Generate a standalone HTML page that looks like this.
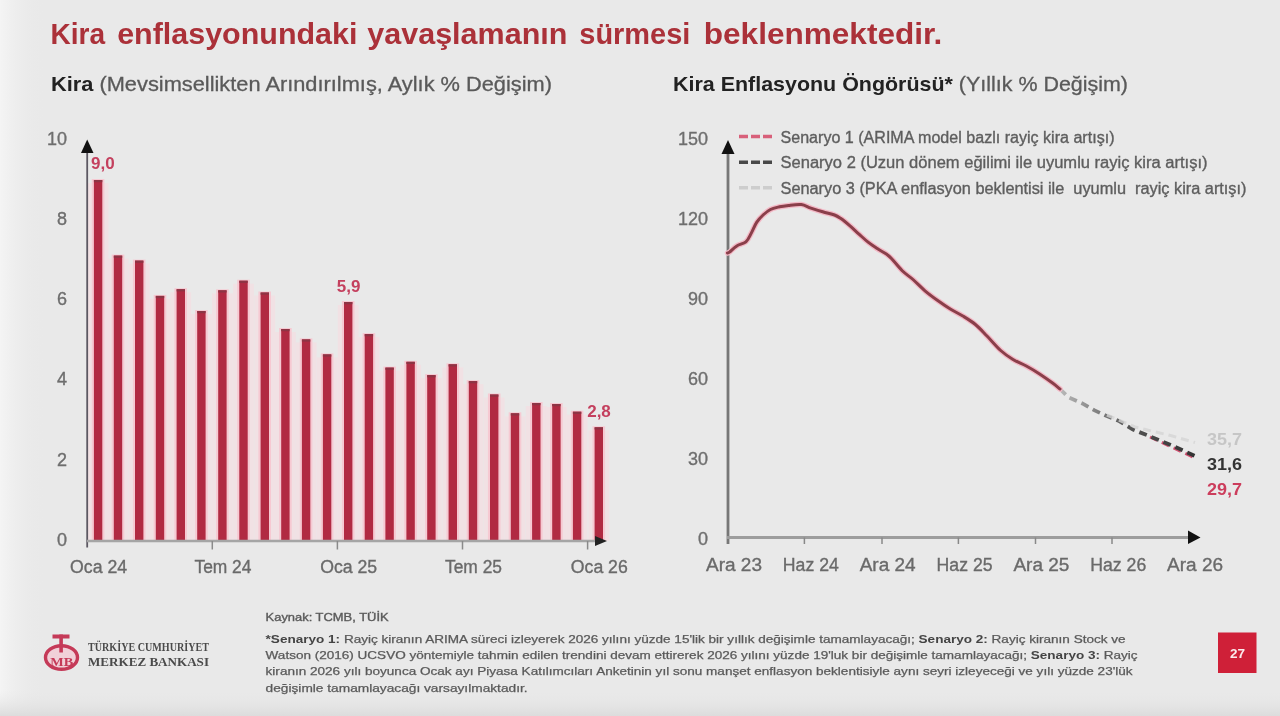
<!DOCTYPE html>
<html><head><meta charset="utf-8"><style>
html,body{margin:0;padding:0;width:1280px;height:716px;overflow:hidden;background:#e9e9e9;}
svg{display:block;filter:blur(0.45px);}
</style></head><body>
<svg width="1280" height="716" viewBox="0 0 1280 716">
<defs>
<linearGradient id="dk" gradientUnits="userSpaceOnUse" x1="1060" y1="0" x2="1195" y2="0"><stop offset="0" stop-color="#b8b8b8"/><stop offset="0.5" stop-color="#555"/><stop offset="1" stop-color="#333"/></linearGradient>
<linearGradient id="bot" x1="0" y1="0" x2="0" y2="1"><stop offset="0" stop-color="#e9e9e9" stop-opacity="0"/><stop offset="1" stop-color="#dcdcdc"/></linearGradient>
<linearGradient id="lft" x1="0" y1="0" x2="1" y2="0"><stop offset="0" stop-color="#f4f4f4"/><stop offset="1" stop-color="#e9e9e9" stop-opacity="0"/></linearGradient>
</defs>
<rect width="1280" height="716" fill="#e9e9e9"/>
<rect x="0" y="0" width="45" height="716" fill="url(#lft)"/>
<rect x="0" y="690" width="1280" height="26" fill="url(#bot)"/>
<text x="50.4" y="43.8" font-size="30" fill="#ab3139" font-weight="bold" text-anchor="start" font-family="Liberation Sans" textLength="54.6" lengthAdjust="spacingAndGlyphs" >Kira</text>
<text x="117.19999999999999" y="43.8" font-size="30" fill="#ab3139" font-weight="bold" text-anchor="start" font-family="Liberation Sans" textLength="240.2" lengthAdjust="spacingAndGlyphs" >enflasyonundaki</text>
<text x="367.3" y="43.8" font-size="30" fill="#ab3139" font-weight="bold" text-anchor="start" font-family="Liberation Sans" textLength="200.1" lengthAdjust="spacingAndGlyphs" >yavaşlamanın</text>
<text x="579.35" y="43.8" font-size="30" fill="#ab3139" font-weight="bold" text-anchor="start" font-family="Liberation Sans" textLength="111.0" lengthAdjust="spacingAndGlyphs" >sürmesi</text>
<text x="703.8000000000001" y="43.8" font-size="30" fill="#ab3139" font-weight="bold" text-anchor="start" font-family="Liberation Sans" textLength="238.5" lengthAdjust="spacingAndGlyphs" >beklenmektedir.</text>
<text x="51" y="90.5" font-size="20.5" font-family="Liberation Sans" fill="#5a5a5a" stroke="#5a5a5a" stroke-width="0.3" textLength="501" lengthAdjust="spacingAndGlyphs"><tspan font-weight="bold" fill="#222" stroke="none">Kira</tspan> (Mevsimsellikten Arındırılmış, Aylık % Değişim)</text>
<text x="673" y="90.5" font-size="20.5" font-family="Liberation Sans" fill="#5a5a5a" stroke="#5a5a5a" stroke-width="0.3" textLength="455" lengthAdjust="spacingAndGlyphs"><tspan font-weight="bold" fill="#222" stroke="none">Kira Enflasyonu Öngörüsü*</tspan> (Yıllık % Değişim)</text>
<text x="67" y="545.8" font-size="18" fill="#6e6e6e" font-weight="normal" text-anchor="end" font-family="Liberation Sans" stroke="#6e6e6e" stroke-width="0.35" >0</text>
<text x="67" y="465.59999999999997" font-size="18" fill="#6e6e6e" font-weight="normal" text-anchor="end" font-family="Liberation Sans" stroke="#6e6e6e" stroke-width="0.35" >2</text>
<text x="67" y="385.4" font-size="18" fill="#6e6e6e" font-weight="normal" text-anchor="end" font-family="Liberation Sans" stroke="#6e6e6e" stroke-width="0.35" >4</text>
<text x="67" y="305.19999999999993" font-size="18" fill="#6e6e6e" font-weight="normal" text-anchor="end" font-family="Liberation Sans" stroke="#6e6e6e" stroke-width="0.35" >6</text>
<text x="67" y="224.99999999999994" font-size="18" fill="#6e6e6e" font-weight="normal" text-anchor="end" font-family="Liberation Sans" stroke="#6e6e6e" stroke-width="0.35" >8</text>
<text x="67" y="144.79999999999995" font-size="18" fill="#6e6e6e" font-weight="normal" text-anchor="end" font-family="Liberation Sans" stroke="#6e6e6e" stroke-width="0.35" >10</text>
<rect x="87.67" y="183.0" width="20.86" height="358.0" fill="#f1e1e4"/><rect x="107.57" y="258.6" width="20.86" height="282.4" fill="#f1e1e4"/><rect x="128.77" y="263.6" width="20.86" height="277.4" fill="#f1e1e4"/><rect x="149.57" y="298.9" width="20.86" height="242.1" fill="#f1e1e4"/><rect x="170.32" y="292.2" width="20.86" height="248.8" fill="#f1e1e4"/><rect x="191.02" y="314.0" width="20.86" height="227.0" fill="#f1e1e4"/><rect x="212.02" y="293.3" width="20.86" height="247.7" fill="#f1e1e4"/><rect x="233.07" y="283.7" width="20.86" height="257.3" fill="#f1e1e4"/><rect x="254.32" y="295.5" width="20.86" height="245.5" fill="#f1e1e4"/><rect x="274.92" y="332.0" width="20.86" height="209.0" fill="#f1e1e4"/><rect x="295.72" y="342.4" width="20.86" height="198.6" fill="#f1e1e4"/><rect x="316.72" y="357.4" width="20.86" height="183.6" fill="#f1e1e4"/><rect x="337.77" y="305.0" width="20.86" height="236.0" fill="#f1e1e4"/><rect x="358.47" y="337.1" width="20.86" height="203.9" fill="#f1e1e4"/><rect x="379.17" y="370.6" width="20.86" height="170.4" fill="#f1e1e4"/><rect x="400.17" y="364.8" width="20.86" height="176.2" fill="#f1e1e4"/><rect x="420.97" y="378.1" width="20.86" height="162.9" fill="#f1e1e4"/><rect x="442.37" y="367.3" width="20.86" height="173.7" fill="#f1e1e4"/><rect x="462.57" y="384.1" width="20.86" height="156.9" fill="#f1e1e4"/><rect x="483.77" y="397.5" width="20.86" height="143.5" fill="#f1e1e4"/><rect x="504.57" y="416.3" width="20.86" height="124.7" fill="#f1e1e4"/><rect x="525.87" y="406.0" width="20.86" height="135.0" fill="#f1e1e4"/><rect x="545.97" y="407.0" width="20.86" height="134.0" fill="#f1e1e4"/><rect x="566.67" y="414.7" width="20.86" height="126.3" fill="#f1e1e4"/><rect x="588.37" y="430.3" width="20.86" height="110.7" fill="#f1e1e4"/>
<rect x="91.8" y="179.0" width="12.6" height="362.0" fill="#f6c9d2"/><rect x="111.7" y="254.6" width="12.6" height="286.4" fill="#f6c9d2"/><rect x="132.9" y="259.6" width="12.6" height="281.4" fill="#f6c9d2"/><rect x="153.7" y="294.9" width="12.6" height="246.1" fill="#f6c9d2"/><rect x="174.4" y="288.2" width="12.6" height="252.8" fill="#f6c9d2"/><rect x="195.1" y="310.0" width="12.6" height="231.0" fill="#f6c9d2"/><rect x="216.1" y="289.3" width="12.6" height="251.7" fill="#f6c9d2"/><rect x="237.2" y="279.7" width="12.6" height="261.3" fill="#f6c9d2"/><rect x="258.4" y="291.5" width="12.6" height="249.5" fill="#f6c9d2"/><rect x="279.1" y="328.0" width="12.6" height="213.0" fill="#f6c9d2"/><rect x="299.8" y="338.4" width="12.6" height="202.6" fill="#f6c9d2"/><rect x="320.8" y="353.4" width="12.6" height="187.6" fill="#f6c9d2"/><rect x="341.9" y="301.0" width="12.6" height="240.0" fill="#f6c9d2"/><rect x="362.6" y="333.1" width="12.6" height="207.9" fill="#f6c9d2"/><rect x="383.3" y="366.6" width="12.6" height="174.4" fill="#f6c9d2"/><rect x="404.3" y="360.8" width="12.6" height="180.2" fill="#f6c9d2"/><rect x="425.1" y="374.1" width="12.6" height="166.9" fill="#f6c9d2"/><rect x="446.5" y="363.3" width="12.6" height="177.7" fill="#f6c9d2"/><rect x="466.7" y="380.1" width="12.6" height="160.9" fill="#f6c9d2"/><rect x="487.9" y="393.5" width="12.6" height="147.5" fill="#f6c9d2"/><rect x="508.7" y="412.3" width="12.6" height="128.7" fill="#f6c9d2"/><rect x="530.0" y="402.0" width="12.6" height="139.0" fill="#f6c9d2"/><rect x="550.1" y="403.0" width="12.6" height="138.0" fill="#f6c9d2"/><rect x="570.8" y="410.7" width="12.6" height="130.3" fill="#f6c9d2"/><rect x="592.5" y="426.3" width="12.6" height="114.7" fill="#f6c9d2"/>
<rect x="93.9" y="180.0" width="8.4" height="361.0" fill="#b12a42"/><rect x="93.9" y="180.0" width="8.4" height="2.2" fill="#8e3444"/><rect x="113.8" y="255.6" width="8.4" height="285.4" fill="#b12a42"/><rect x="113.8" y="255.6" width="8.4" height="2.2" fill="#8e3444"/><rect x="135.0" y="260.6" width="8.4" height="280.4" fill="#b12a42"/><rect x="135.0" y="260.6" width="8.4" height="2.2" fill="#8e3444"/><rect x="155.8" y="295.9" width="8.4" height="245.1" fill="#b12a42"/><rect x="155.8" y="295.9" width="8.4" height="2.2" fill="#8e3444"/><rect x="176.6" y="289.2" width="8.4" height="251.8" fill="#b12a42"/><rect x="176.6" y="289.2" width="8.4" height="2.2" fill="#8e3444"/><rect x="197.2" y="311.0" width="8.4" height="230.0" fill="#b12a42"/><rect x="197.2" y="311.0" width="8.4" height="2.2" fill="#8e3444"/><rect x="218.2" y="290.3" width="8.4" height="250.7" fill="#b12a42"/><rect x="218.2" y="290.3" width="8.4" height="2.2" fill="#8e3444"/><rect x="239.3" y="280.7" width="8.4" height="260.3" fill="#b12a42"/><rect x="239.3" y="280.7" width="8.4" height="2.2" fill="#8e3444"/><rect x="260.6" y="292.5" width="8.4" height="248.5" fill="#b12a42"/><rect x="260.6" y="292.5" width="8.4" height="2.2" fill="#8e3444"/><rect x="281.2" y="329.0" width="8.4" height="212.0" fill="#b12a42"/><rect x="281.2" y="329.0" width="8.4" height="2.2" fill="#8e3444"/><rect x="301.9" y="339.4" width="8.4" height="201.6" fill="#b12a42"/><rect x="301.9" y="339.4" width="8.4" height="2.2" fill="#8e3444"/><rect x="322.9" y="354.4" width="8.4" height="186.6" fill="#b12a42"/><rect x="322.9" y="354.4" width="8.4" height="2.2" fill="#8e3444"/><rect x="344.0" y="302.0" width="8.4" height="239.0" fill="#b12a42"/><rect x="344.0" y="302.0" width="8.4" height="2.2" fill="#8e3444"/><rect x="364.7" y="334.1" width="8.4" height="206.9" fill="#b12a42"/><rect x="364.7" y="334.1" width="8.4" height="2.2" fill="#8e3444"/><rect x="385.4" y="367.6" width="8.4" height="173.4" fill="#b12a42"/><rect x="385.4" y="367.6" width="8.4" height="2.2" fill="#8e3444"/><rect x="406.4" y="361.8" width="8.4" height="179.2" fill="#b12a42"/><rect x="406.4" y="361.8" width="8.4" height="2.2" fill="#8e3444"/><rect x="427.2" y="375.1" width="8.4" height="165.9" fill="#b12a42"/><rect x="427.2" y="375.1" width="8.4" height="2.2" fill="#8e3444"/><rect x="448.6" y="364.3" width="8.4" height="176.7" fill="#b12a42"/><rect x="448.6" y="364.3" width="8.4" height="2.2" fill="#8e3444"/><rect x="468.8" y="381.1" width="8.4" height="159.9" fill="#b12a42"/><rect x="468.8" y="381.1" width="8.4" height="2.2" fill="#8e3444"/><rect x="490.0" y="394.5" width="8.4" height="146.5" fill="#b12a42"/><rect x="490.0" y="394.5" width="8.4" height="2.2" fill="#8e3444"/><rect x="510.8" y="413.3" width="8.4" height="127.7" fill="#b12a42"/><rect x="510.8" y="413.3" width="8.4" height="2.2" fill="#8e3444"/><rect x="532.1" y="403.0" width="8.4" height="138.0" fill="#b12a42"/><rect x="532.1" y="403.0" width="8.4" height="2.2" fill="#8e3444"/><rect x="552.2" y="404.0" width="8.4" height="137.0" fill="#b12a42"/><rect x="552.2" y="404.0" width="8.4" height="2.2" fill="#8e3444"/><rect x="572.9" y="411.7" width="8.4" height="129.3" fill="#b12a42"/><rect x="572.9" y="411.7" width="8.4" height="2.2" fill="#8e3444"/><rect x="594.6" y="427.3" width="8.4" height="113.7" fill="#b12a42"/><rect x="594.6" y="427.3" width="8.4" height="2.2" fill="#8e3444"/>
<line x1="87.2" y1="150" x2="87.2" y2="547.5" stroke="#5c5862" stroke-width="1.8"/>
<path d="M81,153 L87.2,139.5 L93.5,153 Z" fill="#111"/>
<line x1="87" y1="541" x2="598" y2="541" stroke="#a5a5a5" stroke-width="2.5"/>
<line x1="212.3" y1="541" x2="212.3" y2="549.5" stroke="#8a8a8a" stroke-width="1.5"/>
<line x1="337.4" y1="541" x2="337.4" y2="549.5" stroke="#8a8a8a" stroke-width="1.5"/>
<line x1="462.5" y1="541" x2="462.5" y2="549.5" stroke="#8a8a8a" stroke-width="1.5"/>
<line x1="587.6" y1="541" x2="587.6" y2="549.5" stroke="#8a8a8a" stroke-width="1.5"/>
<path d="M595,536 L607,541 L595,546 Z" fill="#222"/>
<text x="102.8" y="169" font-size="17" fill="#c4405e" font-weight="bold" text-anchor="middle" font-family="Liberation Sans" >9,0</text>
<text x="348.6" y="291.5" font-size="17" fill="#c4405e" font-weight="bold" text-anchor="middle" font-family="Liberation Sans" >5,9</text>
<text x="599" y="416.5" font-size="17" fill="#c4405e" font-weight="bold" text-anchor="middle" font-family="Liberation Sans" >2,8</text>
<text x="98.6" y="572.5" font-size="18" fill="#6a6a6a" font-weight="normal" text-anchor="middle" font-family="Liberation Sans" textLength="57" lengthAdjust="spacingAndGlyphs" stroke="#6a6a6a" stroke-width="0.35" >Oca 24</text>
<text x="222.95" y="572.5" font-size="18" fill="#6a6a6a" font-weight="normal" text-anchor="middle" font-family="Liberation Sans" textLength="57" lengthAdjust="spacingAndGlyphs" stroke="#6a6a6a" stroke-width="0.35" >Tem 24</text>
<text x="348.7" y="572.5" font-size="18" fill="#6a6a6a" font-weight="normal" text-anchor="middle" font-family="Liberation Sans" textLength="57" lengthAdjust="spacingAndGlyphs" stroke="#6a6a6a" stroke-width="0.35" >Oca 25</text>
<text x="473.5" y="572.5" font-size="18" fill="#6a6a6a" font-weight="normal" text-anchor="middle" font-family="Liberation Sans" textLength="57" lengthAdjust="spacingAndGlyphs" stroke="#6a6a6a" stroke-width="0.35" >Tem 25</text>
<text x="599.3" y="572.5" font-size="18" fill="#6a6a6a" font-weight="normal" text-anchor="middle" font-family="Liberation Sans" textLength="57" lengthAdjust="spacingAndGlyphs" stroke="#6a6a6a" stroke-width="0.35" >Oca 26</text>
<text x="708" y="545.0" font-size="18" fill="#6e6e6e" font-weight="normal" text-anchor="end" font-family="Liberation Sans" stroke="#6e6e6e" stroke-width="0.35" >0</text>
<text x="708" y="464.9" font-size="18" fill="#6e6e6e" font-weight="normal" text-anchor="end" font-family="Liberation Sans" stroke="#6e6e6e" stroke-width="0.35" >30</text>
<text x="708" y="384.8" font-size="18" fill="#6e6e6e" font-weight="normal" text-anchor="end" font-family="Liberation Sans" stroke="#6e6e6e" stroke-width="0.35" >60</text>
<text x="708" y="304.70000000000005" font-size="18" fill="#6e6e6e" font-weight="normal" text-anchor="end" font-family="Liberation Sans" stroke="#6e6e6e" stroke-width="0.35" >90</text>
<text x="708" y="224.60000000000002" font-size="18" fill="#6e6e6e" font-weight="normal" text-anchor="end" font-family="Liberation Sans" stroke="#6e6e6e" stroke-width="0.35" >120</text>
<text x="708" y="144.5" font-size="18" fill="#6e6e6e" font-weight="normal" text-anchor="end" font-family="Liberation Sans" stroke="#6e6e6e" stroke-width="0.35" >150</text>
<line x1="728" y1="150" x2="728" y2="544" stroke="#777" stroke-width="2.8"/>
<path d="M721.5,154 L728,140 L734.5,154 Z" fill="#111"/>
<line x1="727" y1="537.5" x2="1192" y2="537.5" stroke="#9d9d9d" stroke-width="3"/>
<line x1="804.4" y1="537.5" x2="804.4" y2="544" stroke="#888" stroke-width="1.5"/>
<line x1="882" y1="537.5" x2="882" y2="544" stroke="#888" stroke-width="1.5"/>
<line x1="958.4" y1="537.5" x2="958.4" y2="544" stroke="#888" stroke-width="1.5"/>
<line x1="1035.5" y1="537.5" x2="1035.5" y2="544" stroke="#888" stroke-width="1.5"/>
<line x1="1112" y1="537.5" x2="1112" y2="544" stroke="#888" stroke-width="1.5"/>
<path d="M1188,530.5 L1200.5,537.5 L1188,544 Z" fill="#111"/>
<text x="734.0" y="571" font-size="18" fill="#6a6a6a" font-weight="normal" text-anchor="middle" font-family="Liberation Sans" textLength="56" lengthAdjust="spacingAndGlyphs" stroke="#6a6a6a" stroke-width="0.35" >Ara 23</text>
<text x="810.85" y="571" font-size="18" fill="#6a6a6a" font-weight="normal" text-anchor="middle" font-family="Liberation Sans" textLength="56" lengthAdjust="spacingAndGlyphs" stroke="#6a6a6a" stroke-width="0.35" >Haz 24</text>
<text x="887.7" y="571" font-size="18" fill="#6a6a6a" font-weight="normal" text-anchor="middle" font-family="Liberation Sans" textLength="56" lengthAdjust="spacingAndGlyphs" stroke="#6a6a6a" stroke-width="0.35" >Ara 24</text>
<text x="964.55" y="571" font-size="18" fill="#6a6a6a" font-weight="normal" text-anchor="middle" font-family="Liberation Sans" textLength="56" lengthAdjust="spacingAndGlyphs" stroke="#6a6a6a" stroke-width="0.35" >Haz 25</text>
<text x="1041.4" y="571" font-size="18" fill="#6a6a6a" font-weight="normal" text-anchor="middle" font-family="Liberation Sans" textLength="56" lengthAdjust="spacingAndGlyphs" stroke="#6a6a6a" stroke-width="0.35" >Ara 25</text>
<text x="1118.25" y="571" font-size="18" fill="#6a6a6a" font-weight="normal" text-anchor="middle" font-family="Liberation Sans" textLength="56" lengthAdjust="spacingAndGlyphs" stroke="#6a6a6a" stroke-width="0.35" >Haz 26</text>
<text x="1195.1" y="571" font-size="18" fill="#6a6a6a" font-weight="normal" text-anchor="middle" font-family="Liberation Sans" textLength="56" lengthAdjust="spacingAndGlyphs" stroke="#6a6a6a" stroke-width="0.35" >Ara 26</text>
<line x1="739" y1="136.6" x2="774" y2="136.6" stroke="#d8607a" stroke-width="3.5" stroke-dasharray="9,3"/>
<text x="780.5" y="142.6" font-size="16" fill="#5e5e5e" font-weight="normal" text-anchor="start" font-family="Liberation Sans" textLength="334" lengthAdjust="spacingAndGlyphs" stroke="#5e5e5e" stroke-width="0.35" xml:space="preserve">Senaryo 1 (ARIMA model bazlı rayiç kira artışı)</text>
<line x1="739" y1="162.2" x2="774" y2="162.2" stroke="#484848" stroke-width="3.5" stroke-dasharray="9,3"/>
<text x="780.5" y="168.2" font-size="16" fill="#5e5e5e" font-weight="normal" text-anchor="start" font-family="Liberation Sans" textLength="427" lengthAdjust="spacingAndGlyphs" stroke="#5e5e5e" stroke-width="0.35" xml:space="preserve">Senaryo 2 (Uzun dönem eğilimi ile uyumlu rayiç kira artışı)</text>
<line x1="739" y1="187.8" x2="774" y2="187.8" stroke="#cdcdcd" stroke-width="3.5" stroke-dasharray="9,3"/>
<text x="780.5" y="193.8" font-size="16" fill="#5e5e5e" font-weight="normal" text-anchor="start" font-family="Liberation Sans" textLength="466" lengthAdjust="spacingAndGlyphs" stroke="#5e5e5e" stroke-width="0.35" xml:space="preserve">Senaryo 3 (PKA enflasyon beklentisi ile  uyumlu  rayiç kira artışı)</text>
<path d="M1150,437 L1171.5,447 L1195,458" stroke="#d05070" stroke-width="3" fill="none" stroke-dasharray="8,5"/>
<path d="M1060,389 L1068.4,397.3 L1082.3,403.4 L1094.6,410.4 L1106.9,416.1 L1119.2,421.1 L1133,429.6 L1147,435.2 L1159.3,440.2 L1171.5,445.3 L1185,451.4 L1195,456" stroke="url(#dk)" stroke-width="3.8" fill="none" stroke-dasharray="8,5"/>
<path d="M1106.9,415 L1135,427 L1171.5,435.8 L1195,442.5" stroke="#d4d4d4" stroke-width="3" fill="none" stroke-dasharray="8,5" opacity="0.8"/>
<path d="M727.5,253 C727.8,252.9 728.0,253.4 729.5,252.2 C731.0,251.0 734.1,247.6 736.8,245.9 C739.5,244.2 743.5,243.9 745.9,241.8 C748.3,239.7 749.5,236.4 751.3,233.1 C753.1,229.8 754.8,225.2 756.8,222.2 C758.8,219.2 760.8,217.1 763.1,215 C765.4,212.9 767.7,210.9 770.4,209.5 C773.1,208.1 776.5,207.5 779.5,206.8 C782.5,206.1 785.0,205.8 788.6,205.4 C792.2,205.0 797.6,204.2 801.3,204.6 C805.0,205.0 807.3,206.9 810.9,208.1 C814.5,209.3 818.8,210.7 822.7,211.8 C826.6,213.0 831.5,213.9 834.5,215 C837.5,216.1 838.3,216.8 840.9,218.6 C843.5,220.4 847.0,223.3 850,225.9 C853.0,228.5 856.0,231.4 859,234.1 C862.0,236.8 865.1,239.8 868.1,242.2 C871.1,244.6 874.2,246.6 877.2,248.6 C880.2,250.6 884.0,252.4 886.3,254 C888.6,255.6 888.6,255.4 891.2,258.2 C893.8,260.9 898.4,266.9 902,270.5 C905.6,274.1 909.2,276.1 913,279.5 C916.8,282.9 920.9,287.3 925,290.8 C929.1,294.3 933.5,297.5 937.7,300.5 C941.9,303.5 946.1,306.4 950.3,309 C954.5,311.6 958.6,313.4 962.8,316 C967.0,318.6 971.4,321.2 975.4,324.5 C979.4,327.8 982.8,331.7 987,336 C991.2,340.3 996.4,346.6 1000.7,350.5 C1005.0,354.4 1008.7,356.9 1013,359.5 C1017.3,362.1 1021.9,363.6 1026.3,366 C1030.7,368.4 1035.2,371.1 1039.6,374 C1044.0,376.9 1049.5,380.8 1052.9,383.3 C1056.3,385.8 1058.8,388.1 1060,389" stroke="#f3b9c6" stroke-width="5.5" fill="none" stroke-linejoin="round" stroke-linecap="round"/>
<path d="M727.5,253 C727.8,252.9 728.0,253.4 729.5,252.2 C731.0,251.0 734.1,247.6 736.8,245.9 C739.5,244.2 743.5,243.9 745.9,241.8 C748.3,239.7 749.5,236.4 751.3,233.1 C753.1,229.8 754.8,225.2 756.8,222.2 C758.8,219.2 760.8,217.1 763.1,215 C765.4,212.9 767.7,210.9 770.4,209.5 C773.1,208.1 776.5,207.5 779.5,206.8 C782.5,206.1 785.0,205.8 788.6,205.4 C792.2,205.0 797.6,204.2 801.3,204.6 C805.0,205.0 807.3,206.9 810.9,208.1 C814.5,209.3 818.8,210.7 822.7,211.8 C826.6,213.0 831.5,213.9 834.5,215 C837.5,216.1 838.3,216.8 840.9,218.6 C843.5,220.4 847.0,223.3 850,225.9 C853.0,228.5 856.0,231.4 859,234.1 C862.0,236.8 865.1,239.8 868.1,242.2 C871.1,244.6 874.2,246.6 877.2,248.6 C880.2,250.6 884.0,252.4 886.3,254 C888.6,255.6 888.6,255.4 891.2,258.2 C893.8,260.9 898.4,266.9 902,270.5 C905.6,274.1 909.2,276.1 913,279.5 C916.8,282.9 920.9,287.3 925,290.8 C929.1,294.3 933.5,297.5 937.7,300.5 C941.9,303.5 946.1,306.4 950.3,309 C954.5,311.6 958.6,313.4 962.8,316 C967.0,318.6 971.4,321.2 975.4,324.5 C979.4,327.8 982.8,331.7 987,336 C991.2,340.3 996.4,346.6 1000.7,350.5 C1005.0,354.4 1008.7,356.9 1013,359.5 C1017.3,362.1 1021.9,363.6 1026.3,366 C1030.7,368.4 1035.2,371.1 1039.6,374 C1044.0,376.9 1049.5,380.8 1052.9,383.3 C1056.3,385.8 1058.8,388.1 1060,389" stroke="#8a3f4a" stroke-width="3" fill="none" stroke-linejoin="round" stroke-linecap="round"/>
<text x="1207" y="445" font-size="17" fill="#c6c6c6" font-weight="bold" text-anchor="start" font-family="Liberation Sans" textLength="35" lengthAdjust="spacingAndGlyphs" >35,7</text>
<text x="1207" y="469.5" font-size="17" fill="#333" font-weight="bold" text-anchor="start" font-family="Liberation Sans" textLength="35" lengthAdjust="spacingAndGlyphs" >31,6</text>
<text x="1207" y="494.5" font-size="17" fill="#cc3d5c" font-weight="bold" text-anchor="start" font-family="Liberation Sans" textLength="35" lengthAdjust="spacingAndGlyphs" >29,7</text>
<text x="265.6" y="620.5" font-size="10.5" fill="#5a5a5a" font-weight="normal" text-anchor="start" font-family="Liberation Sans" textLength="123" lengthAdjust="spacingAndGlyphs" stroke="#5a5a5a" stroke-width="0.35" >Kaynak: TCMB, TÜİK</text>
<text x="265.6" y="643.0" font-size="10.5" font-family="Liberation Sans" fill="#5a5a5a" stroke="#5a5a5a" stroke-width="0.25" textLength="860" lengthAdjust="spacingAndGlyphs"><tspan font-weight="bold" fill="#444" stroke="none">*Senaryo 1:</tspan> Rayiç kiranın ARIMA süreci izleyerek 2026 yılını yüzde 15'lik bir yıllık değişimle tamamlayacağı; <tspan font-weight="bold" fill="#444" stroke="none">Senaryo 2:</tspan> Rayiç kiranın Stock ve</text>
<text x="265.6" y="659.2" font-size="10.5" font-family="Liberation Sans" fill="#5a5a5a" stroke="#5a5a5a" stroke-width="0.25" textLength="872" lengthAdjust="spacingAndGlyphs">Watson (2016) UCSVO yöntemiyle tahmin edilen trendini devam ettirerek 2026 yılını yüzde 19'luk bir değişimle tamamlayacağı; <tspan font-weight="bold" fill="#444" stroke="none">Senaryo 3:</tspan> Rayiç</text>
<text x="265.6" y="675.4" font-size="10.5" font-family="Liberation Sans" fill="#5a5a5a" stroke="#5a5a5a" stroke-width="0.25" textLength="867" lengthAdjust="spacingAndGlyphs">kiranın 2026 yılı boyunca Ocak ayı Piyasa Katılımcıları Anketinin yıl sonu manşet enflasyon beklentisiyle aynı seyri izleyeceği ve yılı yüzde 23'lük</text>
<text x="265.6" y="691.6" font-size="10.5" font-family="Liberation Sans" fill="#5a5a5a" stroke="#5a5a5a" stroke-width="0.25" textLength="262" lengthAdjust="spacingAndGlyphs">değişimle tamamlayacağı varsayılmaktadır.</text>
<ellipse cx="61.5" cy="657.5" rx="16" ry="11.8" fill="#f1d0d8" stroke="#c53a58" stroke-width="3.4"/>
<g fill="#c53a58"><rect x="52.5" y="634.5" width="17" height="4"/><rect x="59.3" y="634.5" width="3.6" height="18"/></g>
<text x="61.8" y="665.5" font-size="13" font-family="Liberation Serif" font-weight="bold" fill="#c53a58" text-anchor="middle" textLength="23" lengthAdjust="spacingAndGlyphs">MB</text>
<text x="88" y="650.5" font-size="12" fill="#4a4a4a" font-weight="bold" text-anchor="start" font-family="Liberation Serif" textLength="121" lengthAdjust="spacingAndGlyphs" >TÜRKİYE CUMHURİYET</text>
<text x="88" y="665.5" font-size="12" fill="#4a4a4a" font-weight="bold" text-anchor="start" font-family="Liberation Serif" textLength="121" lengthAdjust="spacingAndGlyphs" >MERKEZ BANKASI</text>
<rect x="1218" y="632.5" width="38.5" height="40.5" fill="#cf2038"/>
<text x="1237.5" y="658" font-size="13.5" fill="#fbe9ec" font-weight="bold" text-anchor="middle" font-family="Liberation Sans" >27</text>
</svg>
</body></html>
